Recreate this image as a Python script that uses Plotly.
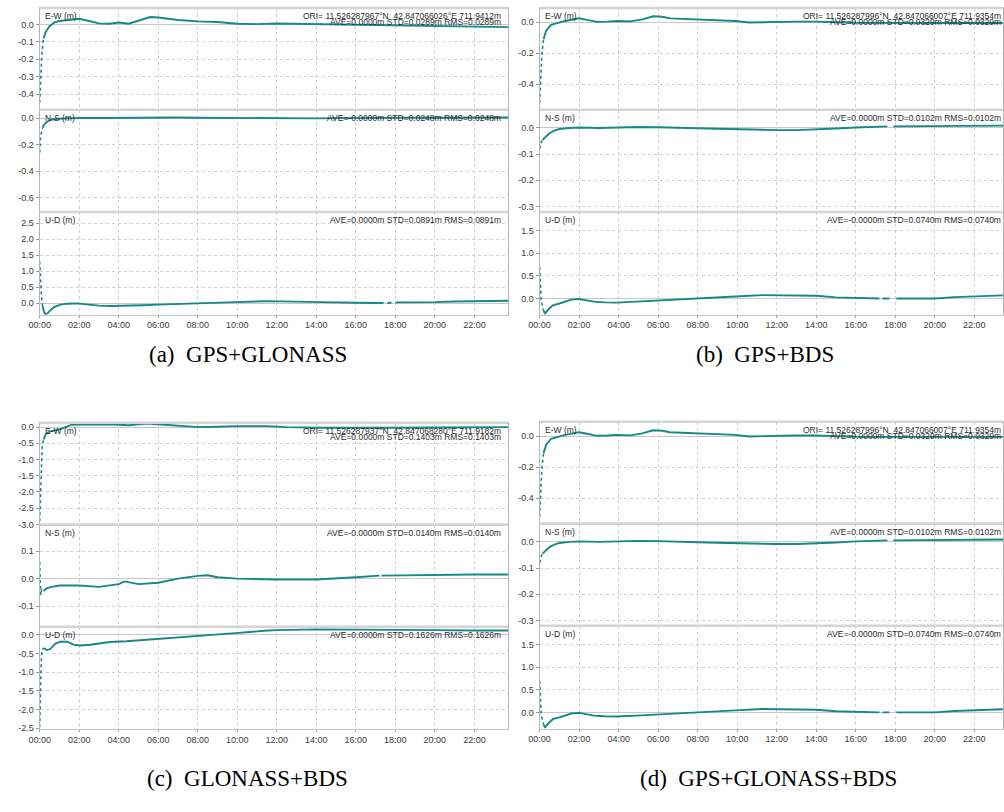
import plotly.graph_objects as go

W, H = 1004, 812
TEAL = "#148985"
GRID = "#d0d0d0"
FRAME = "#c4c4c4"
SEP = "#d4d4d4"
SANS = "Tahoma, 'Liberation Sans', Arial, sans-serif"
SERIF = "'Times New Roman', 'Liberation Serif', serif"

# time axis (hours of day)
HOUR_TICKS = [0, 2, 4, 6, 8, 10, 12, 14, 16, 18, 20, 22]
HOUR_LABELS = ["00:00", "02:00", "04:00", "06:00", "08:00", "10:00",
               "12:00", "14:00", "16:00", "18:00", "20:00", "22:00"]

# ---------------- (a) GPS+GLONASS ----------------
a_ew_t = [0.0, 0.02, 0.05, 0.08, 0.12, 0.2, 0.3, 0.5, 0.75, 1.0, 1.5, 2.0, 2.5, 3.0,
          3.5, 4.0, 4.5, 5.0, 5.6, 6.0, 6.5, 7.0, 8.0, 9.0, 10.0, 11.0, 12.0, 13.0,
          14.0, 15.0, 16.0, 17.0, 18.0, 19.0, 20.0, 21.0, 22.0, 23.0, 23.7]
a_ew_v = [-0.45, -0.38, -0.30, -0.21, -0.15, -0.08, -0.045, -0.01, 0.012, 0.02, 0.027,
          0.033, 0.02, 0.006, 0.004, 0.011, 0.004, 0.02, 0.043, 0.04, 0.032, 0.026,
          0.018, 0.014, 0.004, 0.002, 0.006, 0.004, 0.002, 0.0, -0.002, -0.004, -0.004,
          -0.006, -0.008, -0.01, -0.012, -0.014, -0.015]

a_ns_t = [0.0, 0.02, 0.05, 0.1, 0.15, 0.25, 0.4, 0.6, 1.0, 1.5, 2.0, 3.0, 4.0, 5.0, 6.0,
          7.0, 8.0, 9.0, 10.0, 11.0, 12.0, 13.0, 14.0, 15.0, 16.0, 17.0, 18.0, 19.0,
          20.0, 21.0, 22.0, 23.0, 23.7]
a_ns_v = [-0.26, -0.19, -0.14, -0.1, -0.07, -0.045, -0.025, -0.012, -0.004, 0.0, 0.002,
          0.001, 0.003, 0.004, 0.006, 0.005, 0.003, 0.002, 0.0, -0.002, -0.003, -0.003,
          -0.002, 0.0, 0.002, 0.003, 0.004, 0.004, 0.003, 0.003, 0.004, 0.005, 0.005]

a_ud_t = [0.0, 0.03, 0.06, 0.1, 0.15, 0.22, 0.3, 0.4, 0.55, 0.75, 1.05, 1.4, 1.9, 2.3,
          2.6, 3.0, 3.6, 4.4, 5.2, 6.0, 7.0, 7.9, 9.0, 9.9, 11.5, 12.5, 13.5, 14.0, 15.0,
          16.0, 17.0, 17.4, 17.5, 17.6, 17.8, 17.9, 18.0, 19.0, 20.0, 21.0, 22.0, 23.0,
          23.7]
a_ud_v = [1.3, 0.9, 0.5, 0.15, -0.1, -0.28, -0.35, -0.32, -0.22, -0.12, -0.05, -0.02,
          -0.01, -0.04, -0.07, -0.08, -0.09, -0.09, -0.07, -0.05, -0.035, -0.02, 0.01,
          0.03, 0.06, 0.055, 0.05, 0.03, 0.02, 0.01, 0.0, 0.0, None, 0.0, 0.01, None,
          0.02, 0.02, 0.03, 0.05, 0.06, 0.065, 0.07]

# ---------------- (b) GPS+BDS / (d) GPS+GLONASS+BDS ----------------
b_ew_t = [0.0, 0.02, 0.05, 0.08, 0.12, 0.2, 0.33, 0.58, 0.9, 1.3, 1.75, 2.0, 2.4, 2.9,
          3.4, 3.9, 4.6, 5.2, 5.75, 6.2, 6.6, 7.4, 8.25, 9.2, 9.9, 10.6, 11.25, 12.0,
          13.0, 14.0, 14.6, 15.0, 16.0, 17.0, 18.0, 19.0, 20.0, 21.0, 22.0, 23.0, 23.45]
b_ew_v = [-0.52, -0.44, -0.375, -0.3, -0.2, -0.11, -0.055, -0.017, -0.005, 0.008, 0.019,
          0.025, 0.015, 0.002, 0.004, 0.008, 0.005, 0.018, 0.038, 0.035, 0.025, 0.02,
          0.015, 0.01, 0.008, -0.002, 0.0, 0.004, 0.004, 0.004, 0.004, 0.0, -0.004,
          -0.005, -0.005, -0.005, -0.005, -0.006, -0.005, -0.005, -0.005]

b_ns_t = [0.0, 0.03, 0.08, 0.15, 0.3, 0.5, 0.75, 1.0, 1.5, 2.0, 3.0, 4.0, 5.0, 6.0, 7.0,
          8.0, 9.0, 10.0, 11.0, 12.0, 13.0, 14.0, 15.0, 16.0, 17.0, 17.6, 17.75, 17.9,
          19.0, 20.0, 21.0, 22.0, 23.45]
b_ns_v = [-0.08, -0.065, -0.055, -0.045, -0.035, -0.02, -0.01, -0.004, 0.0, 0.002, 0.0,
          0.003, 0.004, 0.003, 0.0, -0.001, -0.003, -0.005, -0.007, -0.008, -0.008,
          -0.006, -0.002, 0.002, 0.005, 0.006, None, 0.006, 0.007, 0.008, 0.008, 0.008,
          0.009]

b_ud_t = [0.0, 0.02, 0.05, 0.08, 0.12, 0.2, 0.28, 0.42, 0.67, 1.0, 1.3, 1.6, 2.0, 2.4,
          2.75, 3.3, 3.9, 4.9, 5.9, 6.9, 7.9, 8.9, 9.9, 11.25, 12.0, 13.0, 13.5, 14.0,
          15.0, 16.0, 17.0, 17.2, 17.27, 17.35, 17.7, 17.9, 18.05, 19.0, 20.0, 21.0,
          22.0, 22.5, 23.45]
b_ud_v = [0.7, 0.44, 0.15, -0.02, -0.12, -0.27, -0.33, -0.25, -0.15, -0.11, -0.06,
          -0.025, -0.01, -0.04, -0.07, -0.085, -0.09, -0.07, -0.05, -0.03, -0.01, 0.02,
          0.045, 0.075, 0.075, 0.075, 0.07, 0.06, 0.025, 0.01, 0.0, 0.0, None, 0.0, 0.0,
          None, 0.0, 0.0, 0.0, 0.03, 0.05, 0.06, 0.07]

# ---------------- (c) GLONASS+BDS ----------------
c_ew_t = [0.0, 0.02, 0.05, 0.08, 0.1, 0.13, 0.2, 0.3, 0.5, 0.8, 1.05, 1.3, 1.6, 2.0, 2.8,
          3.5, 4.5, 5.4, 6.0, 7.2, 8.0, 9.0, 10.0, 11.5, 12.5, 14.0, 16.0, 18.0, 20.0,
          22.0, 23.7]
c_ew_v = [-2.9, -2.4, -1.95, -1.35, -0.95, -0.6, -0.38, -0.22, -0.14, -0.1, -0.06, 0.0,
          0.07, 0.08, 0.08, 0.09, 0.06, 0.11, 0.09, 0.04, 0.0, 0.01, 0.03, 0.03, 0.0,
          -0.02, -0.03, -0.02, -0.01, 0.0, 0.0]

c_ns_t = [0.0, 0.02, 0.05, 0.1, 0.2, 0.35, 0.6, 1.0, 2.0, 3.0, 4.0, 4.3, 5.0, 6.0, 7.0,
          8.0, 8.5, 9.0, 10.0, 12.0, 14.0, 15.0, 16.0, 17.0, 17.2, 17.25, 17.3, 18.0,
          20.0, 22.0, 23.7]
c_ns_v = [0.06, 0.0, -0.06, -0.04, -0.045, -0.035, -0.03, -0.025, -0.025, -0.03, -0.02,
          -0.01, -0.02, -0.015, 0.0, 0.01, 0.012, 0.005, 0.0, -0.003, -0.003, 0.0, 0.005,
          0.01, 0.011, None, 0.011, 0.012, 0.013, 0.015, 0.015]

c_ud_t = [0.0, 0.02, 0.04, 0.06, 0.08, 0.1, 0.13, 0.22, 0.38, 0.55, 0.8, 1.05, 1.4, 1.7,
          2.05, 2.55, 3.55, 4.4, 6.05, 7.7, 8.55, 9.9, 11.55, 12.0, 14.0, 16.0, 18.0,
          20.0, 22.0, 23.7]
c_ud_v = [-2.47, -1.72, -1.32, -1.05, -0.74, -0.52, -0.39, -0.35, -0.41, -0.37, -0.23,
          -0.18, -0.18, -0.26, -0.28, -0.26, -0.19, -0.17, -0.11, -0.05, 0.0, 0.05,
          0.12, 0.13, 0.15, 0.15, 0.14, 0.13, 0.12, 0.12]

# ---------------- axis ticks ----------------
a_ew_ticks = [0.0, -0.1, -0.2, -0.3, -0.4]
a_ns_ticks = [0.0, -0.2, -0.4, -0.6]
a_ud_ticks = [0.0, 0.5, 1.0, 1.5, 2.0, 2.5]
b_ew_ticks = [0.0, -0.2, -0.4]
b_ns_ticks = [0.0, -0.1, -0.2, -0.3]
b_ud_ticks = [0.0, 0.5, 1.0, 1.5]
c_ew_ticks = [0.0, -0.5, -1.0, -1.5, -2.0, -2.5, -3.0]
c_ns_ticks = [0.1, 0.0, -0.1]
c_ud_ticks = [0.0, -0.5, -1.0, -1.5, -2.0, -2.5]

# ---------------- statistics text ----------------
a_ori = "ORI= 11.526287967°N\u00a0\u00a042.847066026°E 711.9412m"
a_stats = ["AVE=0.0000m STD=0.0289m RMS=0.0289m",
           "AVE=-0.0000m STD=0.0248m RMS=0.0248m",
           "AVE=0.0000m STD=0.0891m RMS=0.0891m"]
b_ori = "ORI= 11.526287996°N\u00a0\u00a042.847066007°E 711.9354m"
b_stats = ["AVE=0.0000m STD=0.0329m RMS=0.0329m",
           "AVE=0.0000m STD=0.0102m RMS=0.0102m",
           "AVE=-0.0000m STD=0.0740m RMS=0.0740m"]
c_ori = "ORI= 11.526287937°N\u00a0\u00a042.847068280°E 711.9182m"
c_stats = ["AVE=0.0000m STD=0.1403m RMS=0.1403m",
           "AVE=-0.0000m STD=0.0140m RMS=0.0140m",
           "AVE=0.0000m STD=0.1626m RMS=0.1626m"]

COMPONENTS = ["E-W (m)", "N-S (m)", "U-D (m)"]
CAPTIONS = ["(a)\u00a0\u00a0GPS+GLONASS", "(b)\u00a0\u00a0GPS+BDS",
            "(c)\u00a0\u00a0GLONASS+BDS", "(d)\u00a0\u00a0GPS+GLONASS+BDS"]


def fmt(v):
    return "%.1f" % v


def px_x(p):
    return p / W


def px_y(p):
    return 1 - p / H


# panel geometry in pixels: x-span, x-range, row boundaries
panels = [
    dict(x0=29, x1=503, xr=23.7, rows=[7, 109.5, 212.5, 316],
         series=[(a_ew_t, a_ew_v), (a_ns_t, a_ns_v), (a_ud_t, a_ud_v)],
         ranges=[[-0.490, 0.095], [-0.709, 0.064], [-0.363, 2.846]],
         ticks=[a_ew_ticks, a_ns_ticks, a_ud_ticks],
         ori=a_ori, stats=a_stats, cap=CAPTIONS[0], capxy=(240, 356)),
    dict(x0=535, x1=1004, xr=23.45, rows=[7, 109.5, 212.5, 316],
         series=[(b_ew_t, b_ew_v), (b_ns_t, b_ns_v), (b_ud_t, b_ud_v)],
         ranges=[[-0.565, 0.092], [-0.321, 0.070], [-0.357, 1.912]],
         ticks=[b_ew_ticks, b_ns_ticks, b_ud_ticks],
         ori=b_ori, stats=b_stats, cap=CAPTIONS[1], capxy=(763, 356)),
    dict(x0=29, x1=503, xr=23.7, rows=[425, 527.5, 630.5, 733.5],
         series=[(c_ew_t, c_ew_v), (c_ns_t, c_ns_v), (c_ud_t, c_ud_v)],
         ranges=[[-3.007, 0.132], [-0.175, 0.196], [-2.521, 0.218]],
         ticks=[c_ew_ticks, c_ns_ticks, c_ud_ticks],
         ori=c_ori, stats=c_stats, cap=CAPTIONS[2], capxy=(239, 783)),
    dict(x0=535, x1=1004, xr=23.45, rows=[424, 526.5, 629.5, 733],
         series=[(b_ew_t, b_ew_v), (b_ns_t, b_ns_v), (b_ud_t, b_ud_v)],
         ranges=[[-0.565, 0.092], [-0.321, 0.070], [-0.357, 1.912]],
         ticks=[b_ew_ticks, b_ns_ticks, b_ud_ticks],
         ori=b_ori, stats=b_stats, cap=CAPTIONS[3], capxy=(767, 783)),
]

fig = go.Figure()
layout = {}
annotations = []
shapes = []
CONV = 0.15  # hours: sparse convergence samples drawn dotted
TXT = dict(family=SANS, size=8.5, color="#2a2a2a")
TICKFONT = dict(family=SANS, size=9, color="#3a3a3a")

n = 0
for p in panels:
    xdom = [px_x(p["x0"]), px_x(p["x1"])]
    for c in range(3):
        n += 1
        xa = "x" if n == 1 else "x%d" % n
        ya = "y" if n == 1 else "y%d" % n
        top, bot = p["rows"][c], p["rows"][c + 1]
        ydom = [px_y(bot), px_y(top)]
        t, v = p["series"][c]

        k = next(i for i, tt in enumerate(t) if tt >= CONV)
        fig.add_trace(go.Scatter(x=t[:k + 1], y=v[:k + 1], mode="lines",
                                 line=dict(color=TEAL, width=1.6, dash="dot"),
                                 xaxis=xa, yaxis=ya, showlegend=False,
                                 hoverinfo="skip"))
        fig.add_trace(go.Scatter(x=t[k:], y=v[k:], mode="lines",
                                 line=dict(color=TEAL, width=1.9),
                                 xaxis=xa, yaxis=ya, showlegend=False,
                                 connectgaps=False))

        bottom_row = c == 2
        layout["xaxis" if n == 1 else "xaxis%d" % n] = dict(
            domain=xdom, anchor=ya, range=[0, p["xr"]],
            tickvals=HOUR_TICKS, ticktext=HOUR_LABELS,
            showticklabels=bottom_row, ticks="outside" if bottom_row else "",
            ticklen=2, tickcolor="#999999",
            showgrid=True, gridcolor=GRID, griddash="dot", gridwidth=1,
            zeroline=False, showline=True, linecolor=FRAME, linewidth=1,
            mirror=True, tickfont=TICKFONT, fixedrange=True)
        layout["yaxis" if n == 1 else "yaxis%d" % n] = dict(
            domain=ydom, anchor=xa, range=p["ranges"][c],
            tickvals=p["ticks"][c], ticktext=[fmt(x) for x in p["ticks"][c]],
            ticks="outside", ticklen=3, tickcolor="#999999",
            showgrid=True, gridcolor=GRID, griddash="dot", gridwidth=1,
            zeroline=True, zerolinecolor="#c8c8c8", zerolinewidth=1,
            showline=True, linecolor="#b4b4b4", linewidth=1, mirror=True,
            tickfont=TICKFONT, fixedrange=True)

        # component label and statistics
        annotations.append(dict(
            x=px_x(p["x0"] + 3), y=px_y(top + 8.5), xref="paper", yref="paper",
            xanchor="left", yanchor="middle", showarrow=False, text=COMPONENTS[c],
            font=TXT))
        right = px_x(p["x1"] - (5 if p["x1"] < W else 0))
        if c == 0:
            annotations.append(dict(
                x=right, y=px_y(top + 8), xref="paper", yref="paper",
                xanchor="right", yanchor="middle", showarrow=False, text=p["ori"],
                font=TXT))
            annotations.append(dict(
                x=right, y=px_y(top + 14), xref="paper", yref="paper",
                xanchor="right", yanchor="middle", showarrow=False, text=p["stats"][0],
                font=TXT))
        else:
            annotations.append(dict(
                x=right, y=px_y(top + 8.5), xref="paper", yref="paper",
                xanchor="right", yanchor="middle", showarrow=False, text=p["stats"][c],
                font=TXT))

    # thick separators between the stacked components and along the top
    for yb in p["rows"][:3]:
        shapes.append(dict(type="line", xref="paper", yref="paper",
                           x0=xdom[0], x1=xdom[1], y0=px_y(yb), y1=px_y(yb),
                           line=dict(color=SEP, width=2.5), layer="above"))

    annotations.append(dict(
        x=px_x(p["capxy"][0]), y=px_y(p["capxy"][1]), xref="paper", yref="paper",
        xanchor="center", yanchor="middle", showarrow=False, text=p["cap"],
        font=dict(family=SERIF, size=23, color="#000000")))

fig.update_layout(
    width=W, height=H, margin=dict(l=0, r=0, t=0, b=0),
    paper_bgcolor="white", plot_bgcolor="white",
    annotations=annotations, shapes=shapes, showlegend=False,
    **layout)

fig.write_html("out.html", config={"displayModeBar": False})
